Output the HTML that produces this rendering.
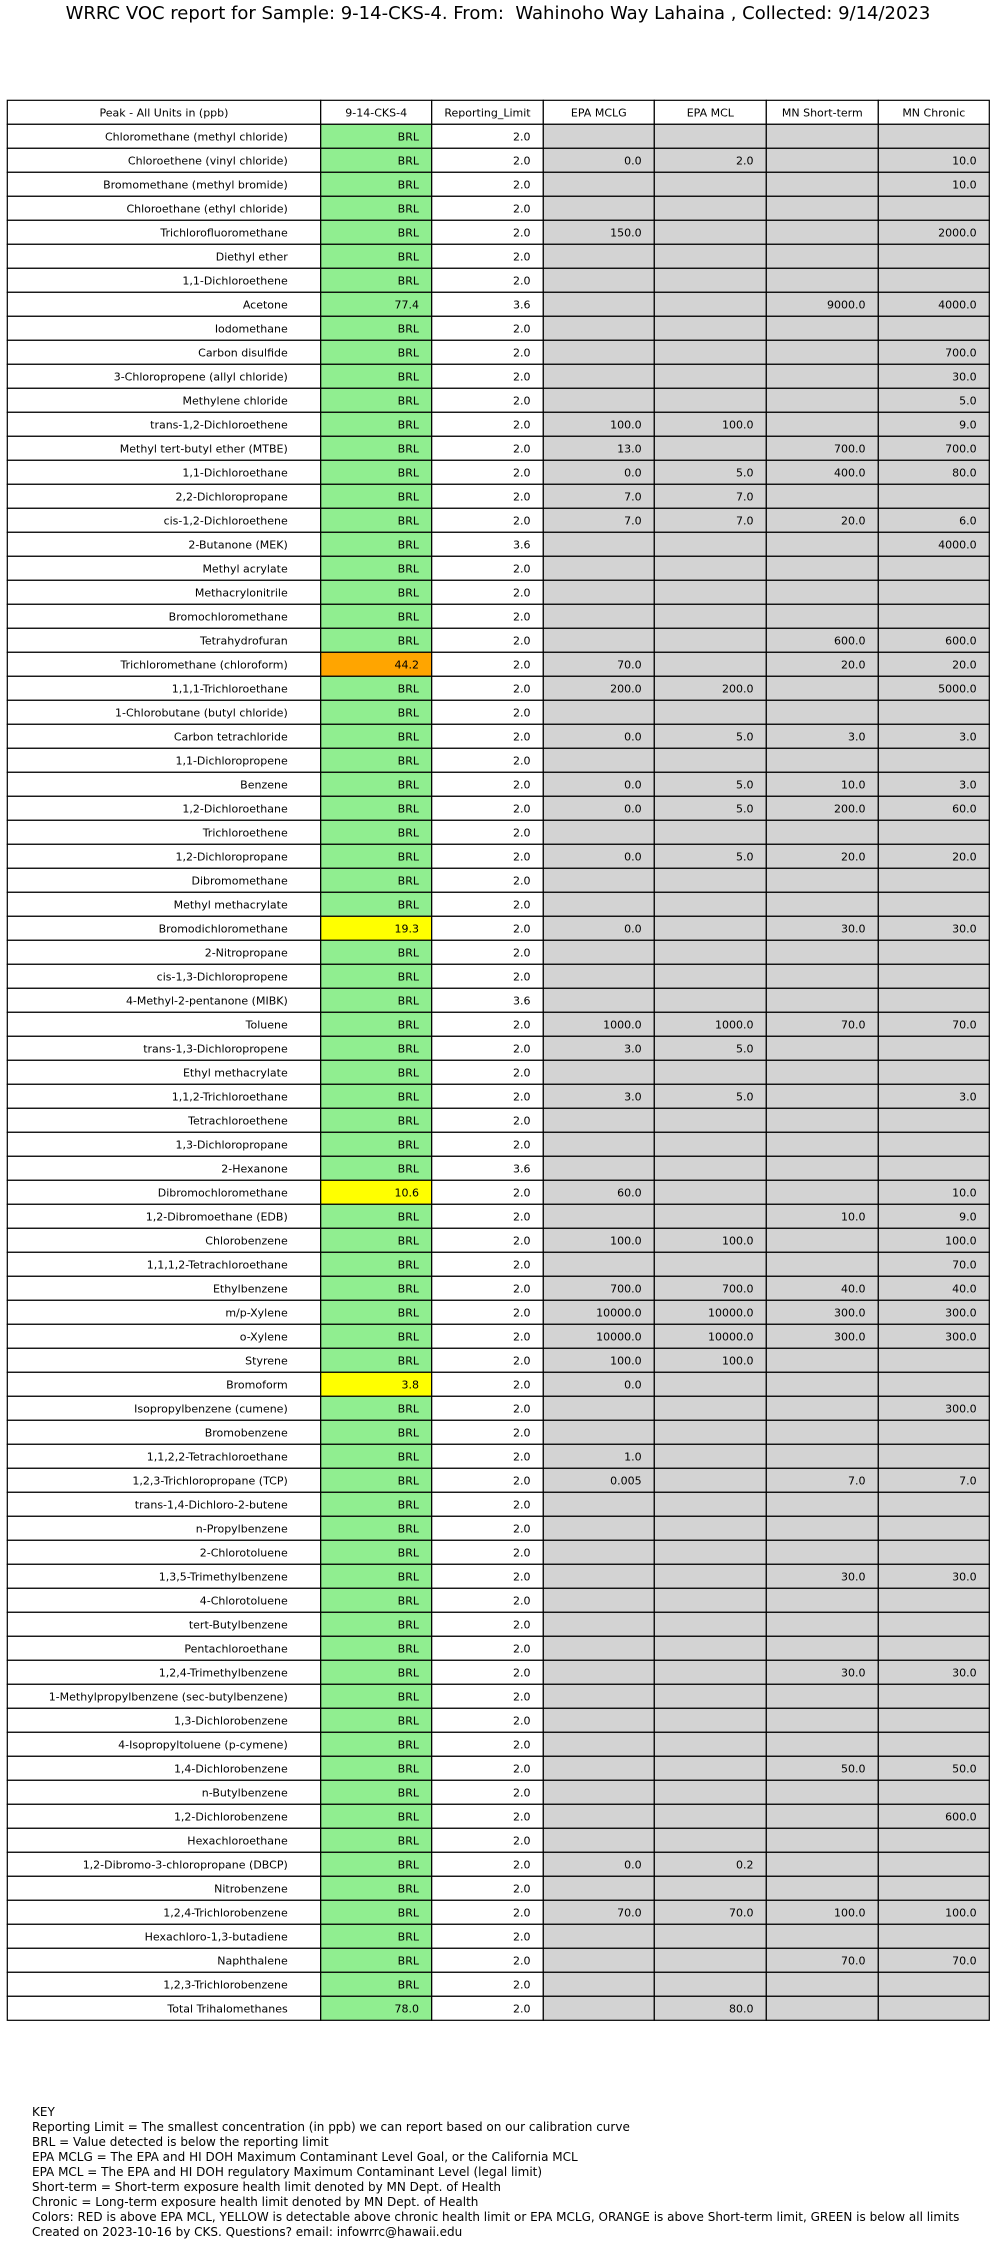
<!DOCTYPE html>
<html><head><meta charset="utf-8"><title>WRRC VOC report</title>
<style>
html,body{margin:0;padding:0;background:#fff;}
body{width:996px;height:2248px;position:relative;overflow:hidden;font-family:"DejaVu Sans","Liberation Sans",sans-serif;}
#title{position:absolute;left:0;top:3px;width:996px;text-align:center;font-size:18px;color:#000;white-space:nowrap;}
#key{position:absolute;left:32px;top:2105px;font-size:12px;line-height:15px;color:#000;white-space:pre;}
svg{position:absolute;left:0;top:0;}
svg text{font-family:"DejaVu Sans","Liberation Sans",sans-serif;font-size:11px;fill:#000;}
</style></head>
<body>
<div id="title">WRRC VOC report for Sample: 9-14-CKS-4. From:&nbsp; Wahinoho Way Lahaina , Collected: 9/14/2023</div>
<svg id="tbl" width="996" height="2248"></svg>
<div id="key">KEY
Reporting Limit = The smallest concentration (in ppb) we can report based on our calibration curve
BRL = Value detected is below the reporting limit
EPA MCLG = The EPA and HI DOH Maximum Contaminant Level Goal, or the California MCL
EPA MCL = The EPA and HI DOH regulatory Maximum Contaminant Level (legal limit)
Short-term = Short-term exposure health limit denoted by MN Dept. of Health
Chronic = Long-term exposure health limit denoted by MN Dept. of Health
Colors: RED is above EPA MCL, YELLOW is detectable above chronic health limit or EPA MCLG, ORANGE is above Short-term limit, GREEN is below all limits
Created on 2023-10-16 by CKS. Questions? email: infowrrc@hawaii.edu</div>
<script>
const headers = ["Peak - All Units in (ppb)","9-14-CKS-4","Reporting_Limit","EPA MCLG","EPA MCL","MN Short-term","MN Chronic"];
const compounds = ["Chloromethane (methyl chloride)","Chloroethene (vinyl chloride)","Bromomethane (methyl bromide)","Chloroethane (ethyl chloride)","Trichlorofluoromethane","Diethyl ether","1,1-Dichloroethene","Acetone","Iodomethane","Carbon disulfide","3-Chloropropene (allyl chloride)","Methylene chloride","trans-1,2-Dichloroethene","Methyl tert-butyl ether (MTBE)","1,1-Dichloroethane","2,2-Dichloropropane","cis-1,2-Dichloroethene","2-Butanone (MEK)","Methyl acrylate","Methacrylonitrile","Bromochloromethane","Tetrahydrofuran","Trichloromethane (chloroform)","1,1,1-Trichloroethane","1-Chlorobutane (butyl chloride)","Carbon tetrachloride","1,1-Dichloropropene","Benzene","1,2-Dichloroethane","Trichloroethene","1,2-Dichloropropane","Dibromomethane","Methyl methacrylate","Bromodichloromethane","2-Nitropropane","cis-1,3-Dichloropropene","4-Methyl-2-pentanone (MIBK)","Toluene","trans-1,3-Dichloropropene","Ethyl methacrylate","1,1,2-Trichloroethane","Tetrachloroethene","1,3-Dichloropropane","2-Hexanone","Dibromochloromethane","1,2-Dibromoethane (EDB)","Chlorobenzene","1,1,1,2-Tetrachloroethane","Ethylbenzene","m/p-Xylene","o-Xylene","Styrene","Bromoform","Isopropylbenzene (cumene)","Bromobenzene","1,1,2,2-Tetrachloroethane","1,2,3-Trichloropropane (TCP)","trans-1,4-Dichloro-2-butene","n-Propylbenzene","2-Chlorotoluene","1,3,5-Trimethylbenzene","4-Chlorotoluene","tert-Butylbenzene","Pentachloroethane","1,2,4-Trimethylbenzene","1-Methylpropylbenzene (sec-butylbenzene)","1,3-Dichlorobenzene","4-Isopropyltoluene (p-cymene)","1,4-Dichlorobenzene","n-Butylbenzene","1,2-Dichlorobenzene","Hexachloroethane","1,2-Dibromo-3-chloropropane (DBCP)","Nitrobenzene","1,2,4-Trichlorobenzene","Hexachloro-1,3-butadiene","Naphthalene","1,2,3-Trichlorobenzene","Total Trihalomethanes"];
const sampleVals = ["BRL","BRL","BRL","BRL","BRL","BRL","BRL","77.4","BRL","BRL","BRL","BRL","BRL","BRL","BRL","BRL","BRL","BRL","BRL","BRL","BRL","BRL","44.2","BRL","BRL","BRL","BRL","BRL","BRL","BRL","BRL","BRL","BRL","19.3","BRL","BRL","BRL","BRL","BRL","BRL","BRL","BRL","BRL","BRL","10.6","BRL","BRL","BRL","BRL","BRL","BRL","BRL","3.8","BRL","BRL","BRL","BRL","BRL","BRL","BRL","BRL","BRL","BRL","BRL","BRL","BRL","BRL","BRL","BRL","BRL","BRL","BRL","BRL","BRL","BRL","BRL","BRL","BRL","78.0"];
const sampleStatus = ["g","g","g","g","g","g","g","g","g","g","g","g","g","g","g","g","g","g","g","g","g","g","o","g","g","g","g","g","g","g","g","g","g","y","g","g","g","g","g","g","g","g","g","g","y","g","g","g","g","g","g","g","y","g","g","g","g","g","g","g","g","g","g","g","g","g","g","g","g","g","g","g","g","g","g","g","g","g","g"];
const reportingLimits = ["2.0","2.0","2.0","2.0","2.0","2.0","2.0","3.6","2.0","2.0","2.0","2.0","2.0","2.0","2.0","2.0","2.0","3.6","2.0","2.0","2.0","2.0","2.0","2.0","2.0","2.0","2.0","2.0","2.0","2.0","2.0","2.0","2.0","2.0","2.0","2.0","3.6","2.0","2.0","2.0","2.0","2.0","2.0","3.6","2.0","2.0","2.0","2.0","2.0","2.0","2.0","2.0","2.0","2.0","2.0","2.0","2.0","2.0","2.0","2.0","2.0","2.0","2.0","2.0","2.0","2.0","2.0","2.0","2.0","2.0","2.0","2.0","2.0","2.0","2.0","2.0","2.0","2.0","2.0"];
const epaMclg = ["","0.0","","","150.0","","","","","","","","100.0","13.0","0.0","7.0","7.0","","","","","","70.0","200.0","","0.0","","0.0","0.0","","0.0","","","0.0","","","","1000.0","3.0","","3.0","","","","60.0","","100.0","","700.0","10000.0","10000.0","100.0","0.0","","","1.0","0.005","","","","","","","","","","","","","","","","0.0","","70.0","","","",""];
const epaMcl = ["","2.0","","","","","","","","","","","100.0","","5.0","7.0","7.0","","","","","","","200.0","","5.0","","5.0","5.0","","5.0","","","","","","","1000.0","5.0","","5.0","","","","","","100.0","","700.0","10000.0","10000.0","100.0","","","","","","","","","","","","","","","","","","","","","0.2","","70.0","","","","80.0"];
const mnShort = ["","","","","","","","9000.0","","","","","","700.0","400.0","","20.0","","","","","600.0","20.0","","","3.0","","10.0","200.0","","20.0","","","30.0","","","","70.0","","","","","","","","10.0","","","40.0","300.0","300.0","","","","","","7.0","","","","30.0","","","","30.0","","","","50.0","","","","","","100.0","","70.0","",""];
const mnChronic = ["","10.0","10.0","","2000.0","","","4000.0","","700.0","30.0","5.0","9.0","700.0","80.0","","6.0","4000.0","","","","600.0","20.0","5000.0","","3.0","","3.0","60.0","","20.0","","","30.0","","","","70.0","","","3.0","","","","10.0","9.0","100.0","70.0","40.0","300.0","300.0","","","300.0","","","7.0","","","","30.0","","","","30.0","","","","50.0","","600.0","","","","100.0","","70.0","",""];

const NS="http://www.w3.org/2000/svg";
const svg=document.getElementById('tbl');
const colX=[7.3,320.7,431.7,543.3,654.3,766.3,878.3,989.3];
const top0=100.3, rowH=24;
const statusColor={g:"#90ee90",y:"#ffff00",o:"#ffa500",r:"#ff0000"};
function cell(x0,x1,y0,fill,txt,align,name){
  const r=document.createElementNS(NS,'rect');
  r.setAttribute('x',x0);r.setAttribute('y',y0);r.setAttribute('width',x1-x0);r.setAttribute('height',rowH);
  r.setAttribute('fill',fill);r.setAttribute('stroke','#000');r.setAttribute('stroke-width','1.2');
  
  
  svg.appendChild(r);
  if(txt!==""){
    const t=document.createElementNS(NS,'text');
    const w=x1-x0;
    if(align==='c'){t.setAttribute('x',(x0+x1)/2);t.setAttribute('text-anchor','middle');}
    else{t.setAttribute('x',x1-(0.1*w+1.6));t.setAttribute('text-anchor','end');}
    t.setAttribute('y',y0+rowH/2+4);
    t.textContent=txt;
    
    
    svg.appendChild(t);
  }
}
headers.forEach((h,j)=>cell(colX[j],colX[j+1],top0,"#fff",h,'c','header-cell'));
compounds.forEach((c,i)=>{
  const y=top0+(i+1)*rowH;
  cell(colX[0],colX[1],y,"#fff",c,'r','compound-name');
  cell(colX[1],colX[2],y,statusColor[sampleStatus[i]],sampleVals[i],'r','sample-value');
  cell(colX[2],colX[3],y,"#fff",reportingLimits[i],'r','reporting-limit');
  cell(colX[3],colX[4],y,"#d3d3d3",epaMclg[i],'r','epa-mclg');
  cell(colX[4],colX[5],y,"#d3d3d3",epaMcl[i],'r','epa-mcl');
  cell(colX[5],colX[6],y,"#d3d3d3",mnShort[i],'r','mn-short-term');
  cell(colX[6],colX[7],y,"#d3d3d3",mnChronic[i],'r','mn-chronic');
});
</script>
</body></html>
